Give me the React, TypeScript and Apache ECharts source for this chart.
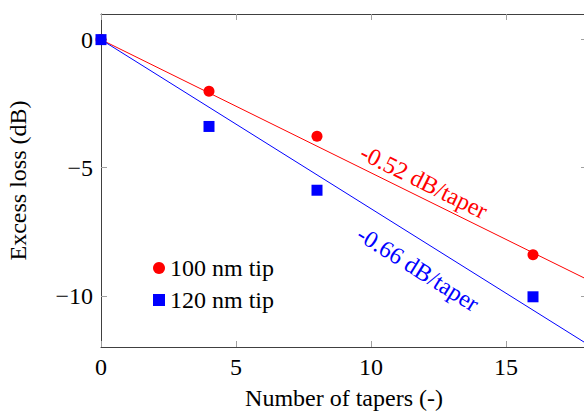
import React, { useEffect, useRef } from "react";
import * as echarts from "echarts";

// Measured excess loss after cascading tapers
const tapers = [0, 4, 8, 16];
const loss100 = [0, -2.02, -3.77, -8.4];
const loss120 = [0, -3.39, -5.88, -10.04];

// Linear fits (dB per taper)
const slope100 = -0.52;
const slope120 = -0.66;

const xTicks = [0, 5, 10, 15];
const yTicks = [-10, -5, 0];

const FONT = "Liberation Serif";
const FS = 24;
const RED = "#ff0000";
const BLUE = "#0000ff";
const FRAME = "#404040";
const TICK = "#a0a0a0";

const fmt = (v: number) => (v < 0 ? "\u2212" + Math.abs(v) : String(v));

export default function App() {
  const ref = useRef<HTMLDivElement>(null);

  useEffect(() => {
    document.body.style.margin = "0";
    const chart = echarts.init(ref.current!, null, { renderer: "svg" });

    const xMax = 18;
    const fitLine = (s: number) => [
      [0, 0],
      [xMax, s * xMax],
    ];

    const baseAxis = {
      axisLine: { show: true, onZero: false, lineStyle: { color: FRAME, width: 1 } },
      axisTick: { show: true, inside: true, length: 6, lineStyle: { color: TICK, width: 1 } },
      splitLine: { show: false },
    };

    const textStyle = { fontFamily: FONT, fontSize: FS, color: "#000" };

    chart.setOption({
      animation: false,
      textStyle: { fontFamily: FONT },
      grid: {
        left: 101,
        top: 14,
        width: 486,
        height: 333,
        containLabel: false,
        outerBoundsMode: "none",
      },
      legend: {
        orient: "vertical",
        left: 148,
        top: 251,
        itemWidth: 12,
        itemHeight: 12,
        itemGap: 8,
        textStyle: { ...textStyle, lineHeight: 22 },
        data: ["100 nm tip", "120 nm tip"],
      },
      xAxis: [
        {
          ...baseAxis,
          type: "value",
          position: "bottom",
          min: 0,
          max: xMax,
          axisTick: { ...baseAxis.axisTick, customValues: xTicks },
          axisLabel: { ...textStyle, customValues: xTicks, formatter: fmt, margin: 8 },
          name: "Number of tapers (-)",
          nameLocation: "middle",
          nameGap: 39,
          nameTextStyle: textStyle,
        },
        {
          ...baseAxis,
          type: "value",
          position: "top",
          min: 0,
          max: xMax,
          axisTick: { ...baseAxis.axisTick, customValues: xTicks },
          axisLabel: { show: false },
        },
      ],
      yAxis: [
        {
          ...baseAxis,
          type: "value",
          position: "left",
          min: -12,
          max: 1,
          axisTick: { ...baseAxis.axisTick, customValues: yTicks },
          axisLabel: { ...textStyle, customValues: yTicks, formatter: fmt, margin: 8 },
          name: "Excess loss (dB)",
          nameLocation: "middle",
          nameRotate: 90,
          nameGap: 71,
          nameTextStyle: textStyle,
        },
        {
          ...baseAxis,
          type: "value",
          position: "right",
          min: -12,
          max: 1,
          axisTick: { ...baseAxis.axisTick, customValues: yTicks },
          axisLabel: { show: false },
        },
      ],
      series: [
        {
          name: "fit100",
          type: "line",
          data: fitLine(slope100),
          symbol: "none",
          lineStyle: { color: RED, width: 1 },
          silent: true,
          z: 1,
        },
        {
          name: "fit120",
          type: "line",
          data: fitLine(slope120),
          symbol: "none",
          lineStyle: { color: BLUE, width: 1 },
          silent: true,
          z: 1,
        },
        {
          name: "100 nm tip",
          type: "scatter",
          data: tapers.map((t, i) => [t, loss100[i]]),
          symbol: "circle",
          symbolSize: 11,
          itemStyle: { color: RED, opacity: 1 },
          z: 3,
        },
        {
          name: "120 nm tip",
          type: "scatter",
          data: tapers.map((t, i) => [t, loss120[i]]),
          symbol: "rect",
          symbolSize: 11,
          itemStyle: { color: BLUE, opacity: 1 },
          z: 4,
        },
      ],
    });

    // Slope annotations, rotated to follow each fit line
    const px = (x: number, y: number) =>
      chart.convertToPixel({ xAxisIndex: 0, yAxisIndex: 0 }, [x, y]) as number[];
    const angle = (s: number) => {
      const a = px(0, 0);
      const b = px(10, 10 * s);
      return Math.atan2(b[1] - a[1], b[0] - a[0]);
    };
    const redPos = px(11.96, -5.55);
    const bluePos = px(11.74, -8.95);

    const note = (s: number, pos: number[], color: string) => ({
      type: "text",
      x: pos[0],
      y: pos[1],
      rotation: -angle(s),
      style: {
        text: s.toFixed(2) + " dB/taper",
        fill: color,
        fontFamily: FONT,
        fontSize: FS,
        align: "center",
        verticalAlign: "middle",
      },
      z: 10,
    });

    chart.setOption({
      graphic: [note(slope100, redPos, RED), note(slope120, bluePos, BLUE)],
    });

    return () => chart.dispose();
  }, []);

  return (
    <div
      ref={ref}
      style={{ width: 584, height: 412, position: "absolute", left: 0, top: 0, overflow: "hidden", background: "#fff" }}
    />
  );
}
